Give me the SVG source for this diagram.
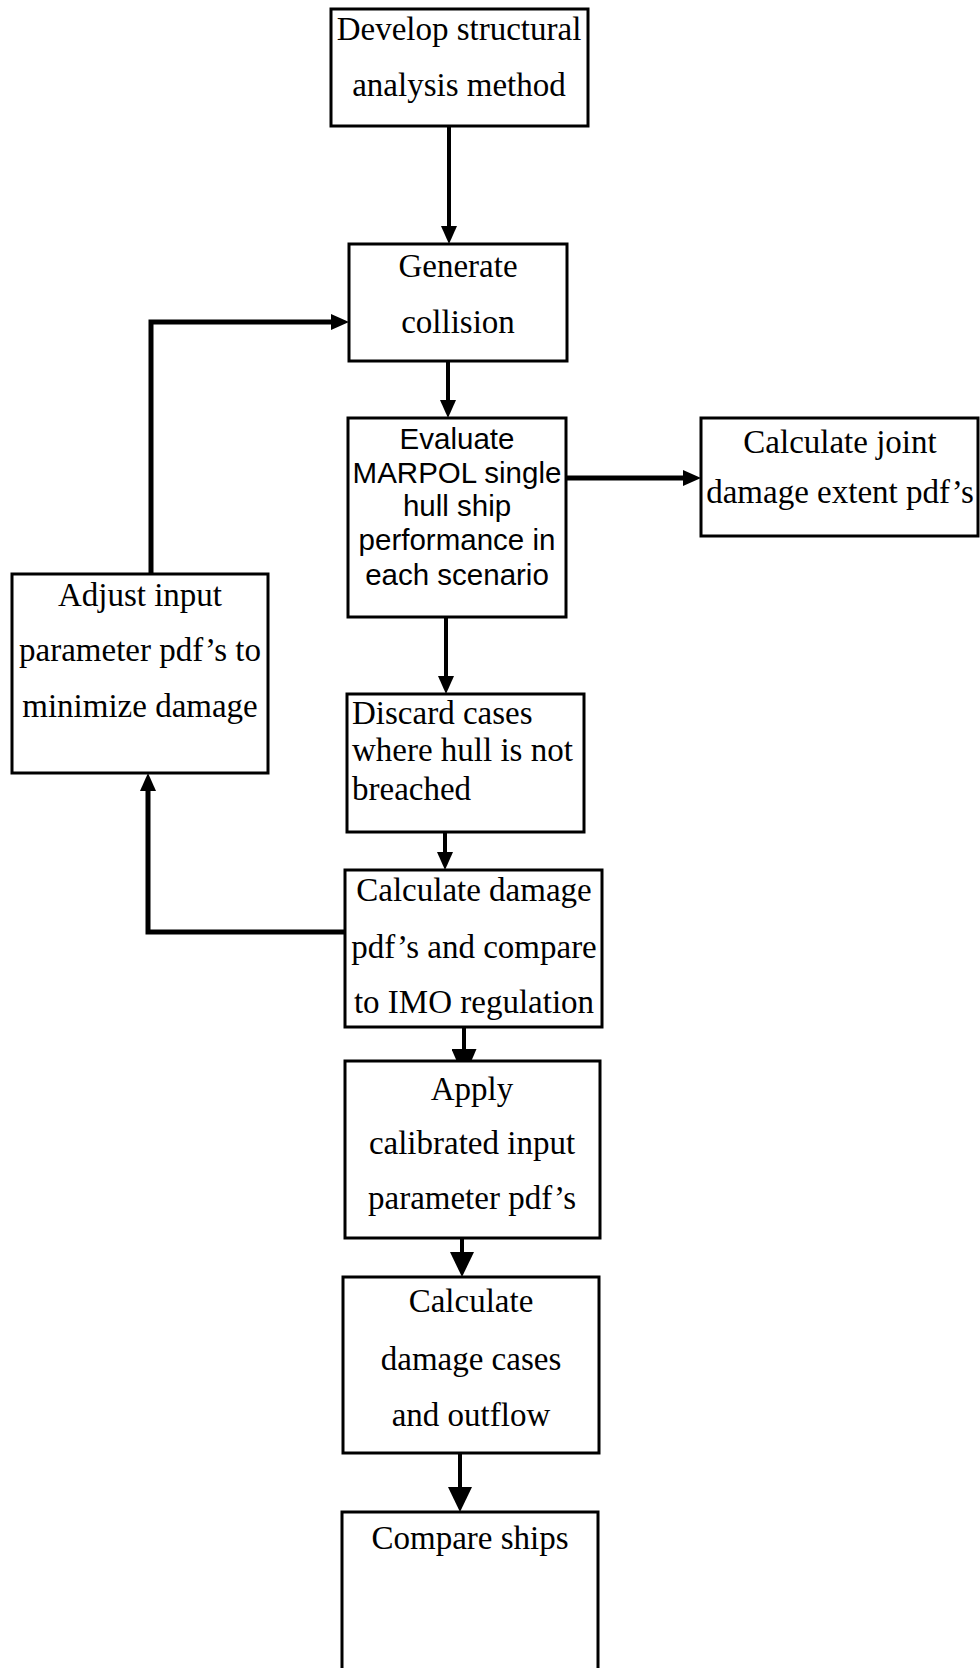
<svg xmlns="http://www.w3.org/2000/svg" width="980" height="1668" viewBox="0 0 980 1668">
<style>
.box{fill:#fff;stroke:#000;stroke-width:3}
.t{font-family:"Liberation Serif","Times New Roman",serif;font-size:33px;fill:#000;text-anchor:middle}
.s{font-family:"Liberation Sans",Arial,sans-serif;font-size:29.5px;fill:#000;text-anchor:middle}
.l{text-anchor:start}
.c{fill:none;stroke:#000;stroke-width:4}
.w{stroke-width:5}
</style>
<defs>
<marker id="a" markerUnits="userSpaceOnUse" viewBox="0 0 18 16" refX="10" refY="8" markerWidth="18" markerHeight="16" orient="auto">
<path d="M0,0 L18,8 L0,16 z" fill="#000"/>
</marker>
<marker id="b" markerUnits="userSpaceOnUse" viewBox="0 0 25 24" refX="14" refY="12" markerWidth="25" markerHeight="24" orient="auto">
<path d="M0,0 L25,12 L0,24 z" fill="#000"/>
</marker>
<marker id="c" markerUnits="userSpaceOnUse" viewBox="0 0 29 25" refX="16" refY="12.5" markerWidth="29" markerHeight="25" orient="auto">
<path d="M0,0 L29,12.5 L0,25 z" fill="#000"/>
</marker>
</defs>
<rect width="980" height="1668" fill="#fff"/>
<g id="connectors">
<path class="c" d="M449,126 V236" marker-end="url(#a)"/>
<path class="c" d="M448,361 V410" marker-end="url(#a)"/>
<path class="c w" d="M566,478 H693" marker-end="url(#a)"/>
<path class="c w" d="M151,574 V322 H341" marker-end="url(#a)"/>
<path class="c" d="M446,617 V686" marker-end="url(#a)"/>
<path class="c" d="M445,832 V862" marker-end="url(#a)"/>
<path class="c w" d="M345,932 H148 V781" marker-end="url(#a)"/>
<path class="c" d="M464,1010 V1065" marker-end="url(#c)"/>
<path class="c" d="M462,1238 V1266" marker-end="url(#b)"/>
<path class="c" d="M460,1453 V1501" marker-end="url(#b)"/>
</g>
<g id="n1">
<rect class="box" x="331" y="9" width="257" height="117"/>
<text class="t" x="459" y="40">Develop structural</text>
<text class="t" x="459" y="96">analysis method</text>
</g>
<g id="n2">
<rect class="box" x="349" y="244" width="218" height="117"/>
<text class="t" x="458" y="277">Generate</text>
<text class="t" x="458" y="333">collision</text>
</g>
<g id="n3">
<rect class="box" x="348" y="418" width="218" height="199"/>
<text class="s" x="457" y="449">Evaluate</text>
<text class="s" x="457" y="483">MARPOL single</text>
<text class="s" x="457" y="516">hull ship</text>
<text class="s" x="457" y="550">performance in</text>
<text class="s" x="457" y="585">each scenario</text>
</g>
<g id="n4">
<rect class="box" x="701" y="418" width="277" height="118"/>
<text class="t" x="840" y="453">Calculate joint</text>
<text class="t" x="840" y="503">damage extent pdf’s</text>
</g>
<g id="n5">
<rect class="box" x="12" y="574" width="256" height="199"/>
<text class="t" x="140" y="606">Adjust input</text>
<text class="t" x="140" y="661">parameter pdf’s to</text>
<text class="t" x="140" y="717">minimize damage</text>
</g>
<g id="n6">
<rect class="box" x="347" y="694" width="237" height="138"/>
<text class="t l" x="352" y="724">Discard cases</text>
<text class="t l" x="352" y="761">where hull is not</text>
<text class="t l" x="352" y="800">breached</text>
</g>
<g id="n7">
<rect class="box" x="345" y="870" width="257" height="157"/>
<text class="t" x="474" y="901">Calculate damage</text>
<text class="t" x="474" y="958">pdf’s and compare</text>
<text class="t" x="474" y="1013">to IMO regulation</text>
</g>
<g id="n8">
<rect class="box" x="345" y="1061" width="255" height="177"/>
<text class="t" x="472" y="1100">Apply</text>
<text class="t" x="472" y="1154">calibrated input</text>
<text class="t" x="472" y="1209">parameter pdf’s</text>
</g>
<g id="n9">
<rect class="box" x="343" y="1277" width="256" height="176"/>
<text class="t" x="471" y="1312">Calculate</text>
<text class="t" x="471" y="1370">damage cases</text>
<text class="t" x="471" y="1426">and outflow</text>
</g>
<g id="n10">
<rect class="box" x="342" y="1512" width="256" height="170"/>
<text class="t" x="470" y="1549">Compare ships</text>
</g>
</svg>
